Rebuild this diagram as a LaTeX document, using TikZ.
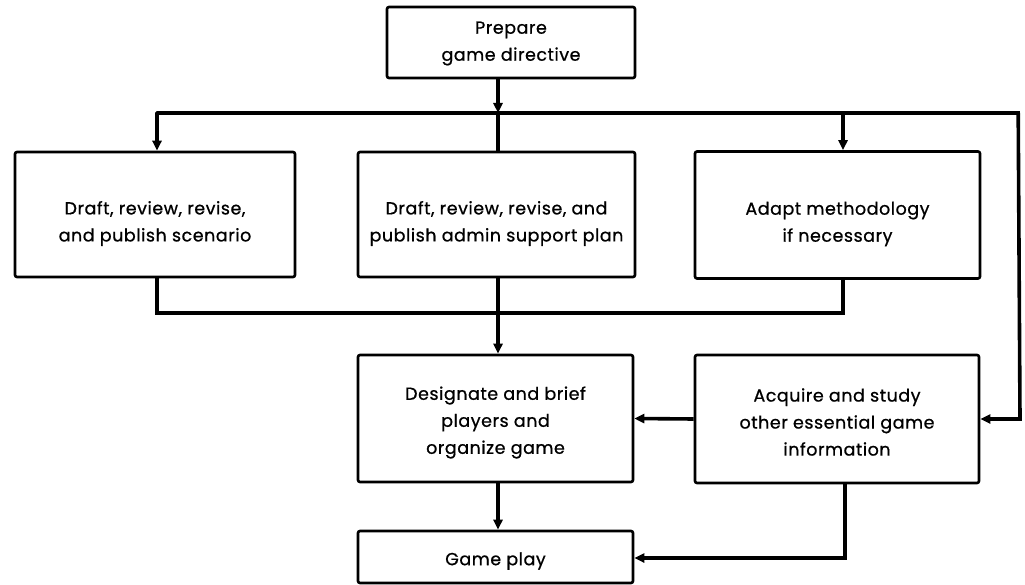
\documentclass[tikz,border=0pt]{standalone}
\usepackage{fontspec}
\setmainfont{Poppins}[FakeBold=0.8,LetterSpace=3]
\usetikzlibrary{arrows.meta,calc}
\begin{document}
\begin{tikzpicture}[x=1pt,y=-1pt,
  box/.style={draw,line width=2.6pt,rounded corners=2pt,inner sep=0pt},
  txt/.style={font=\fontsize{17.5}{27}\selectfont,align=center,yshift=-#1},
  conn/.style={line width=3.6pt},
  arr/.style={conn,-{Triangle[length=10pt,width=9pt]}}]
\useasboundingbox (0,0) rectangle (1025,585);
\node[box,minimum width=248pt,minimum height=71pt,
  label={[txt=1pt]center:Prepare\\game directive}] (prep) at (511,42.5) {};
\node[box,minimum width=280pt,minimum height=125pt,
  label={[txt=9pt]center:Draft, review, revise,\\and publish scenario}] (scen) at (155,214.5) {};
\node[box,minimum width=277pt,minimum height=125pt,
  label={[txt=9pt]center:Draft, review, revise, and\\publish admin support plan}] (admin) at (496.5,214.5) {};
\node[box,minimum width=285pt,minimum height=127pt,
  label={[txt=9pt]center:Adapt methodology\\if necessary}] (adapt) at (837.5,215) {};
\node[box,minimum width=275pt,minimum height=127pt,
  label={[txt=4pt]center:Designate and brief\\players and\\organize game}] (desig) at (495.5,418.5) {};
\node[box,minimum width=284pt,minimum height=128pt,
  label={[txt=3pt]center:Acquire and study\\other essential game\\information}] (acq) at (837,419) {};
\node[box,minimum width=275pt,minimum height=52pt,
  label={[txt=4pt]center:Game play}] (play) at (495.5,557) {};
\coordinate (hub) at (498,113);
\coordinate (busL) at (157,113);
\coordinate (busA) at (843,113);
\coordinate (busR) at (1020,113);
\coordinate (colL) at (157,313);
\coordinate (colR) at (843,313);
\coordinate (colM) at (498,313);
\coordinate (gp) at (845,558);
% from prepare to bus
\draw[arr] (prep.south -| hub) -- (hub);
\draw[conn] (hub) -- (admin.north -| hub);
% bus
\draw[arr,line join=round] (busR) -- (busL) -- (scen.north -| busL);
\draw[arr] (busA) -- (adapt.north -| busA);
\draw[arr] ($(busR)+(-1.8,0)$) -- (acq.east -| busR) -- (acq.east);
% collector
\draw[conn] (scen.south -| colL) -- (colL) -- (colR) -- (adapt.south -| colR);
\draw[arr] (admin.south -| colM) -- (desig.north -| colM);
% lower
\draw[arr] (acq.west) -- (desig.east);
\draw[arr] (desig.south -| colM) -- (play.north -| colM);
\draw[arr] (acq.south -| gp) -- (gp) -- (play.east |- gp);
\end{tikzpicture}
\end{document}
